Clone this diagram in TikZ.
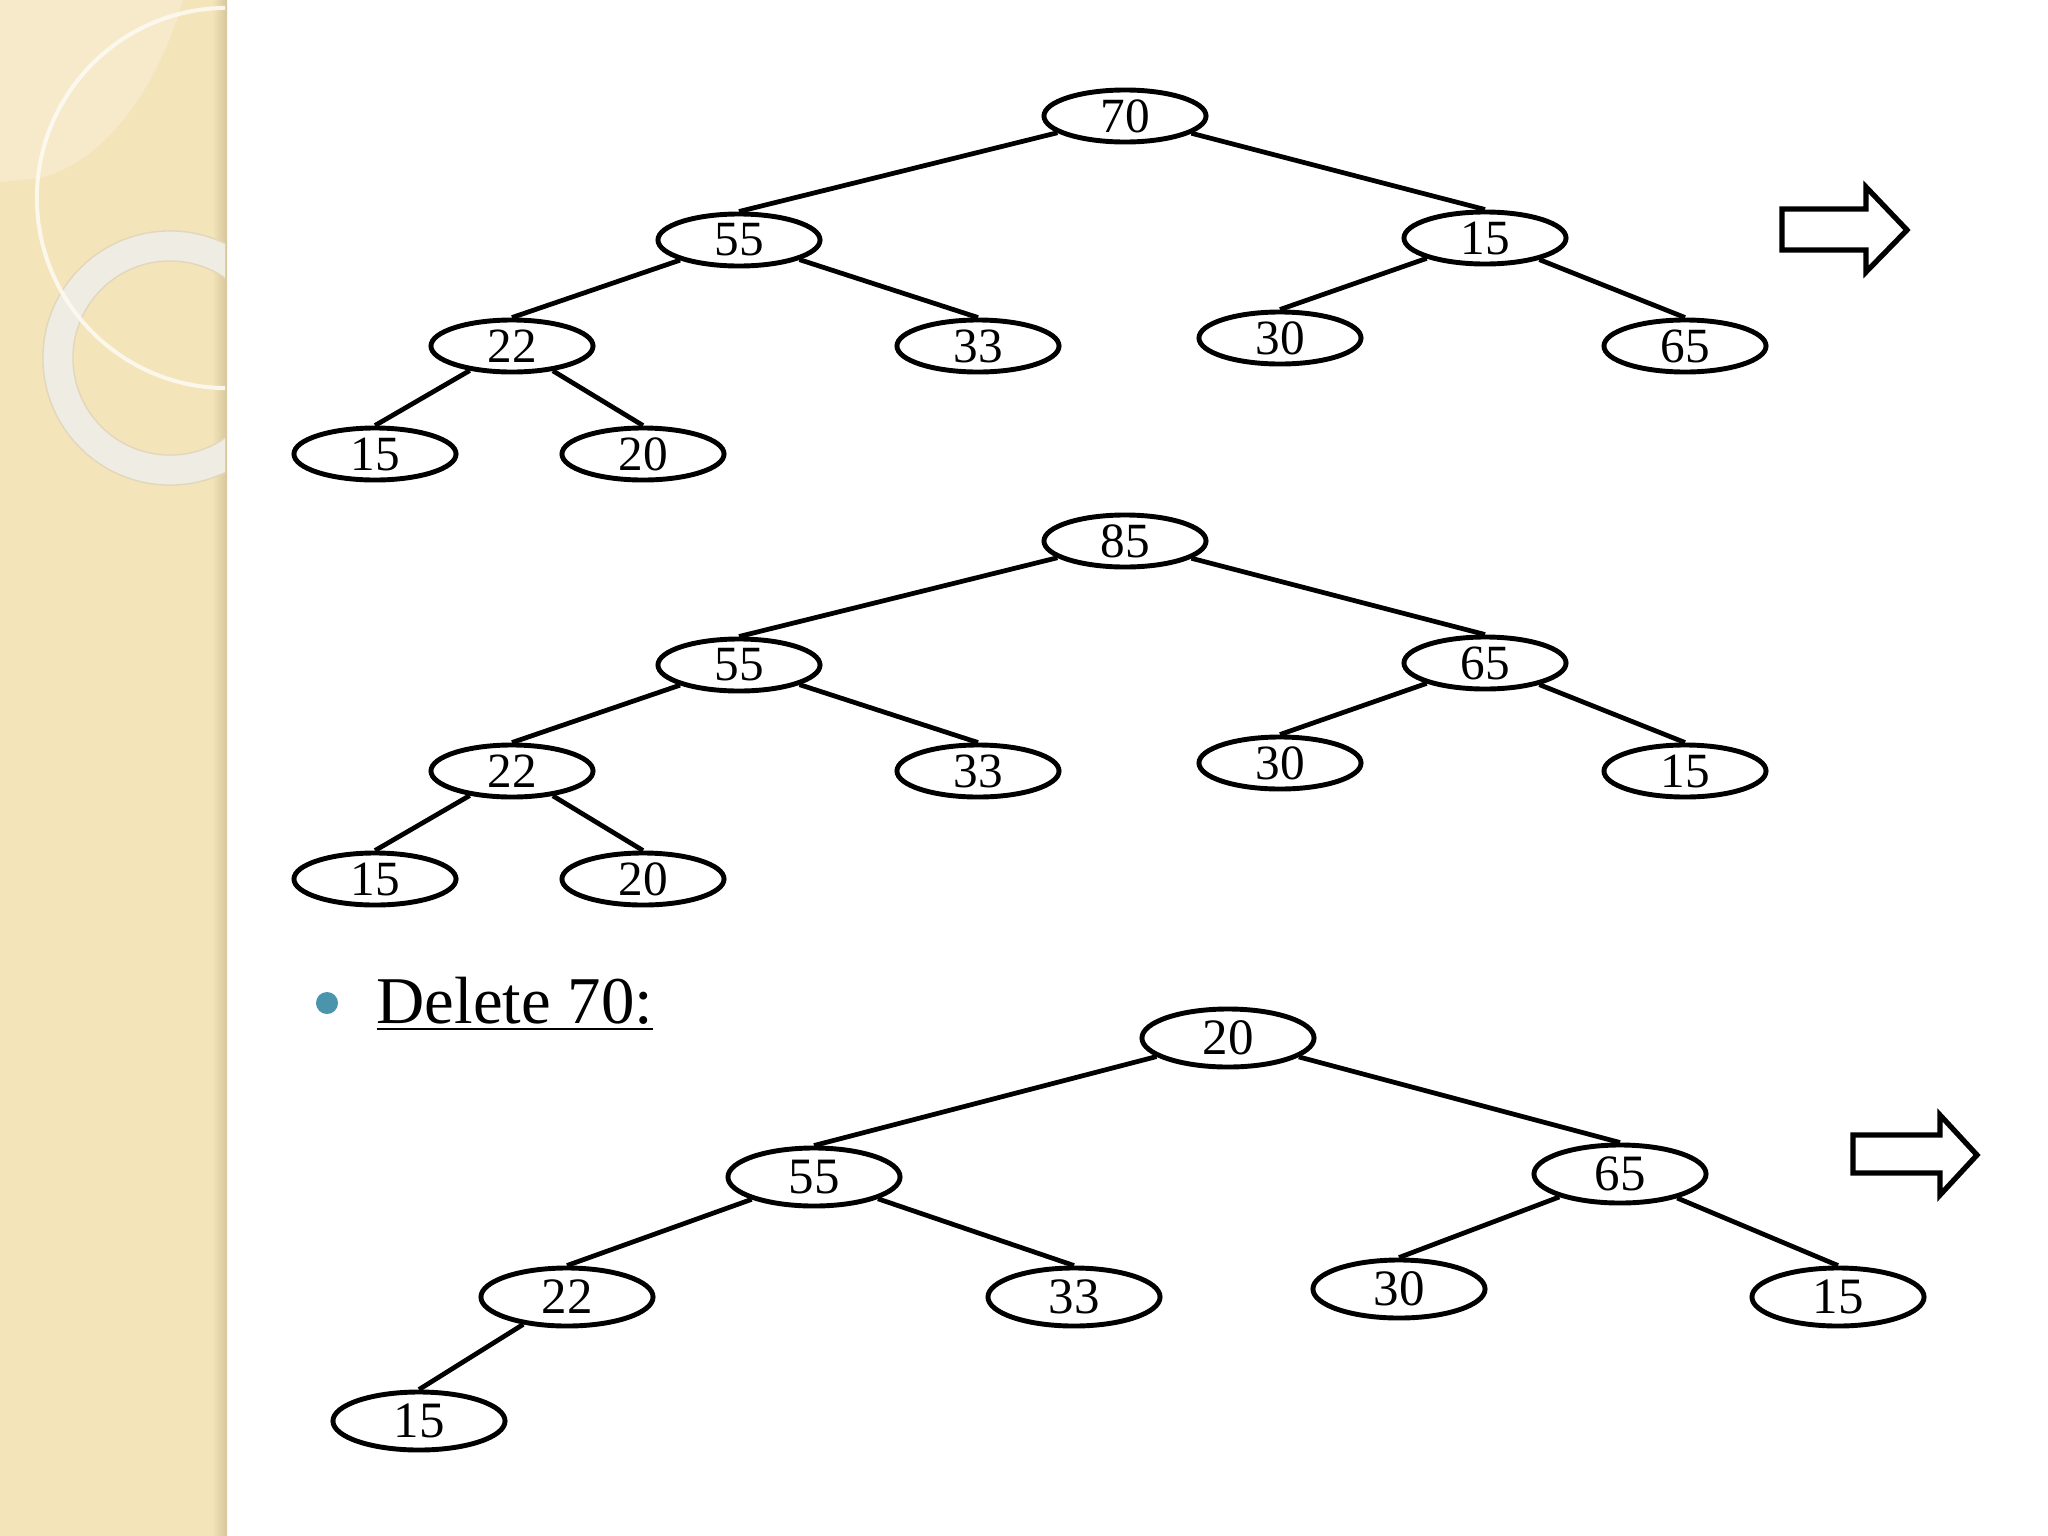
\documentclass[tikz,border=0pt]{standalone}
\usepackage{fontspec}
\setmainfont{Liberation Serif}
\usepackage{xcolor}
\usetikzlibrary{shapes.geometric, positioning, calc}

\definecolor{stripbg}{HTML}{F3E4BA}
\definecolor{stripedge}{HTML}{D6C69C}
\definecolor{ringcol}{HTML}{EFECE3}
\definecolor{bulletcol}{HTML}{4A94AC}

\tikzset{
  hnode/.style={ellipse, draw, line width=1.4pt, minimum width=1.62cm, minimum height=0.52cm, inner sep=0pt, font=\fontsize{14}{14}\selectfont},
  bignode/.style={hnode, minimum width=1.72cm, minimum height=0.58cm, font=\fontsize{14.5}{15}\selectfont},
  link/.style={line width=1.35pt},
  blockarrow/.style={line width=1.5pt, fill=white, line join=miter},
}

\begin{document}
\begin{tikzpicture}[x=0.01cm, y=-0.01cm]
        \useasboundingbox (0,0) rectangle (2048,1536);
        \fill[white] (0,0) rectangle (2048,1536);

        % Decorated strip on the left
        \fill[stripbg] (0,0) rectangle (227,1536);
        \shade[left color=stripbg, right color=stripedge] (212,0) rectangle (227,1536);
        \begin{scope}
          \clip (0,0) rectangle (225,1536);
          \fill[white, opacity=0.25] (0,0) -- (183,0) .. controls (160,80) and (110,160) .. (40,178) -- (0,182) -- cycle;
          \fill[ringcol, even odd rule] (170,358) circle (1.27cm) (170,358) circle (0.97cm);
          \draw[stripedge!70, line width=0.4pt] (170,358) circle (1.27cm) (170,358) circle (0.97cm);
          \draw[white!80!stripbg, line width=0.04cm, opacity=0.9] (227,198) circle (1.9cm);
        \end{scope}

        % First heap
        \node[hnode] (a70) at (1125,116) {70};
        \node[hnode] (a55) at (739,240) {55};
        \node[hnode] (a15) at (1485,238) {15};
        \node[hnode] (a22) at (512,346) {22};
        \node[hnode] (a33) at (978,346) {33};
        \node[hnode] (a30) at (1280,338) {30};
        \node[hnode] (a65) at (1685,346) {65};
        \node[hnode] (a15l) at (375,454) {15};
        \node[hnode] (a20) at (643,454) {20};
        \foreach \p/\c in {a70/a55, a70/a15, a55/a22, a55/a33, a15/a30, a15/a65, a22/a15l, a22/a20}
          \draw[link] (\p) -- (\c.north);

        % Second heap
        \node[hnode] (b85) at (1125,541) {85};
        \node[hnode] (b55) at (739,665) {55};
        \node[hnode] (b65) at (1485,663) {65};
        \node[hnode] (b22) at (512,771) {22};
        \node[hnode] (b33) at (978,771) {33};
        \node[hnode] (b30) at (1280,763) {30};
        \node[hnode] (b15) at (1685,771) {15};
        \node[hnode] (b15l) at (375,879) {15};
        \node[hnode] (b20) at (643,879) {20};
        \foreach \p/\c in {b85/b55, b85/b65, b55/b22, b55/b33, b65/b30, b65/b15, b22/b15l, b22/b20}
          \draw[link] (\p) -- (\c.north);

        % Bullet and heading
        \fill[bulletcol] (327,1003) circle (0.11cm);
        \node[anchor=base west, inner sep=0pt, font=\fontsize{19}{20}\selectfont] (dtitle) at (376,1023) {\underline{Delete 70:}};

        % Third heap
        \node[bignode] (c20) at (1228,1038) {20};
        \node[bignode] (c55) at (814,1177) {55};
        \node[bignode] (c65) at (1620,1174) {65};
        \node[bignode] (c22) at (567,1297) {22};
        \node[bignode] (c33) at (1074,1297) {33};
        \node[bignode] (c30) at (1399,1289) {30};
        \node[bignode] (c15) at (1838,1297) {15};
        \node[bignode] (c15l) at (419,1421) {15};
        \foreach \p/\c in {c20/c55, c20/c65, c55/c22, c55/c33, c65/c30, c65/c15, c22/c15l}
          \draw[link] (\p) -- (\c.north);

        % Block arrows
        \draw[blockarrow] (1782,209) -- (1866,209) -- (1866,187) -- (1907,230) -- (1866,272) -- (1866,250) -- (1782,250) -- cycle;
        \draw[blockarrow] (1853,1135) -- (1940,1135) -- (1940,1115) -- (1977,1155) -- (1940,1195) -- (1940,1173) -- (1853,1173) -- cycle;

\end{tikzpicture}
\end{document}
